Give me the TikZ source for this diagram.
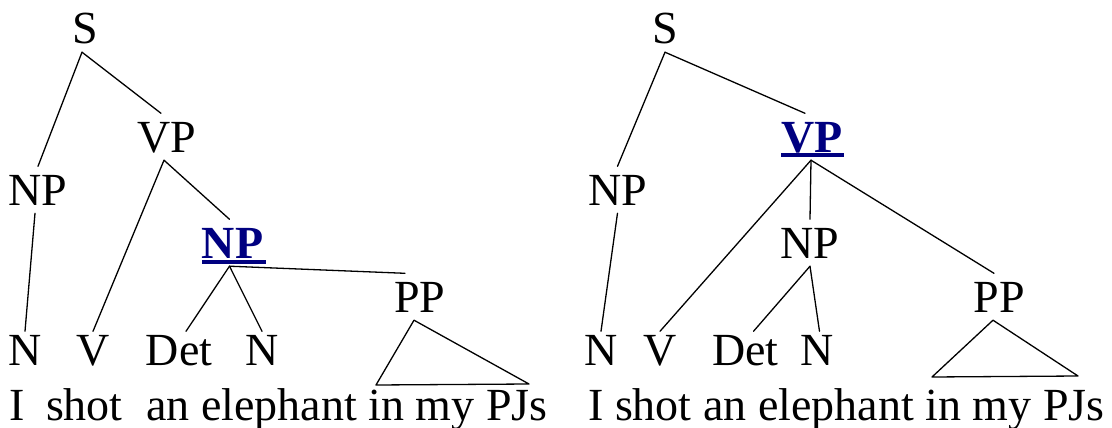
\documentclass[tikz,border=0pt]{standalone}
\usepackage{fontspec}
\setmainfont{Liberation Serif}
\definecolor{hl}{RGB}{0,0,128}
\begin{document}
\begin{tikzpicture}[x=1pt,y=-1pt,
  every node/.style={font=\fontsize{46}{50}\selectfont, inner xsep=0pt},
  cat/.style={anchor=base, inner ysep=8pt, text height=30.5pt, text depth=0pt},
  leaf/.style={anchor=base, inner ysep=3pt, text height=30.5pt, text depth=0pt},
  hi/.style={cat, text=hl, font=\fontsize{46}{50}\selectfont\bfseries},
  words/.style={anchor=base west, inner sep=0pt},
  edge/.style={line width=1.3pt, line cap=round, line join=round}]
\useasboundingbox (0,0) rectangle (1112,428);

% ---------- left tree ----------
\node[cat]  (S1)   at (85,44)   {S};
\node[cat]  (VP1)  at (167,152) {VP};
\node[cat]  (NP1)  at (38,205)  {NP};
\node[hi]   (bNP1) at (232.5,258) {NP};
\node[cat]  (PP1)  at (420,312) {PP};
\node[leaf] (N1)   at (25,365)  {N};
\node[leaf] (V1)   at (93,365)  {V};
\node[leaf] (Det1) at (179,365) {Det};
\node[leaf] (N1b)  at (262,365) {N};
\node[words] (W1) at (9,420) {I\hspace{21.5pt}shot\hspace{23.5pt}an elephant in my PJs};
\coordinate (T1l) at (376,385);
\coordinate (T1r) at (529,384);

\fill[hl] ([yshift=-2pt]bNP1.base west) rectangle ([yshift=-6pt,xshift=3pt]bNP1.base east);

\draw[edge] ([xshift=-3pt]S1.south) -- (NP1.north);
\draw[edge] ([xshift=-3pt]S1.south) -- ([xshift=-6pt]VP1.north);
\draw[edge] ([xshift=-3pt]NP1.south) -- (N1.north);
\draw[edge] ([xshift=-3pt]VP1.south) -- (V1.north);
\draw[edge] ([xshift=-3pt]VP1.south) -- ([xshift=-3pt]bNP1.north);
\draw[edge] ([xshift=-3pt]bNP1.south) -- ([xshift=7pt]Det1.north);
\draw[edge] ([xshift=-3pt]bNP1.south) -- (N1b.north);
\draw[edge] ([xshift=-3pt]bNP1.south) -- ([xshift=-15pt]PP1.north);
\draw[edge] ([xshift=-6pt]PP1.south) -- (T1l) -- (T1r) -- cycle;

% ---------- right tree ----------
\node[cat]  (S2)   at (665,44)  {S};
\node[cat]  (NP2)  at (617.5,205) {NP};
\node[hi]   (VP2)  at (812,152) {VP};
\node[cat]  (mNP)  at (810,258) {NP};
\node[cat]  (PP2)  at (999,312) {PP};
\node[leaf] (N2)   at (601,365) {N};
\node[leaf] (V2)   at (660,365) {V};
\node[leaf] (Det2) at (745.5,365) {Det};
\node[leaf] (N2b)  at (817.5,365) {N};
\node[words] (W2) at (588,420) {I shot an elephant in my PJs};
\coordinate (T2l) at (932,377);
\coordinate (T2r) at (1078,376);

\fill[hl] ([yshift=-1pt]VP2.base west) rectangle ([yshift=-5pt,xshift=1pt]VP2.base east);

\draw[edge] (S2.south) -- (NP2.north);
\draw[edge] (S2.south) -- ([xshift=-7pt]VP2.north);
\draw[edge] (NP2.south) -- (N2.north);
\draw[edge] ([xshift=-1pt]VP2.south) -- (V2.north);
\draw[edge] ([xshift=-1pt]VP2.south) -- (mNP.north);
\draw[edge] ([xshift=-1pt]VP2.south) -- ([xshift=-5pt]PP2.north);
\draw[edge] (mNP.south) -- ([xshift=8pt]Det2.north);
\draw[edge] (mNP.south) -- ([xshift=2pt]N2b.north);
\draw[edge] ([xshift=-6pt]PP2.south) -- (T2l) -- (T2r) -- cycle;
\end{tikzpicture}
\end{document}
